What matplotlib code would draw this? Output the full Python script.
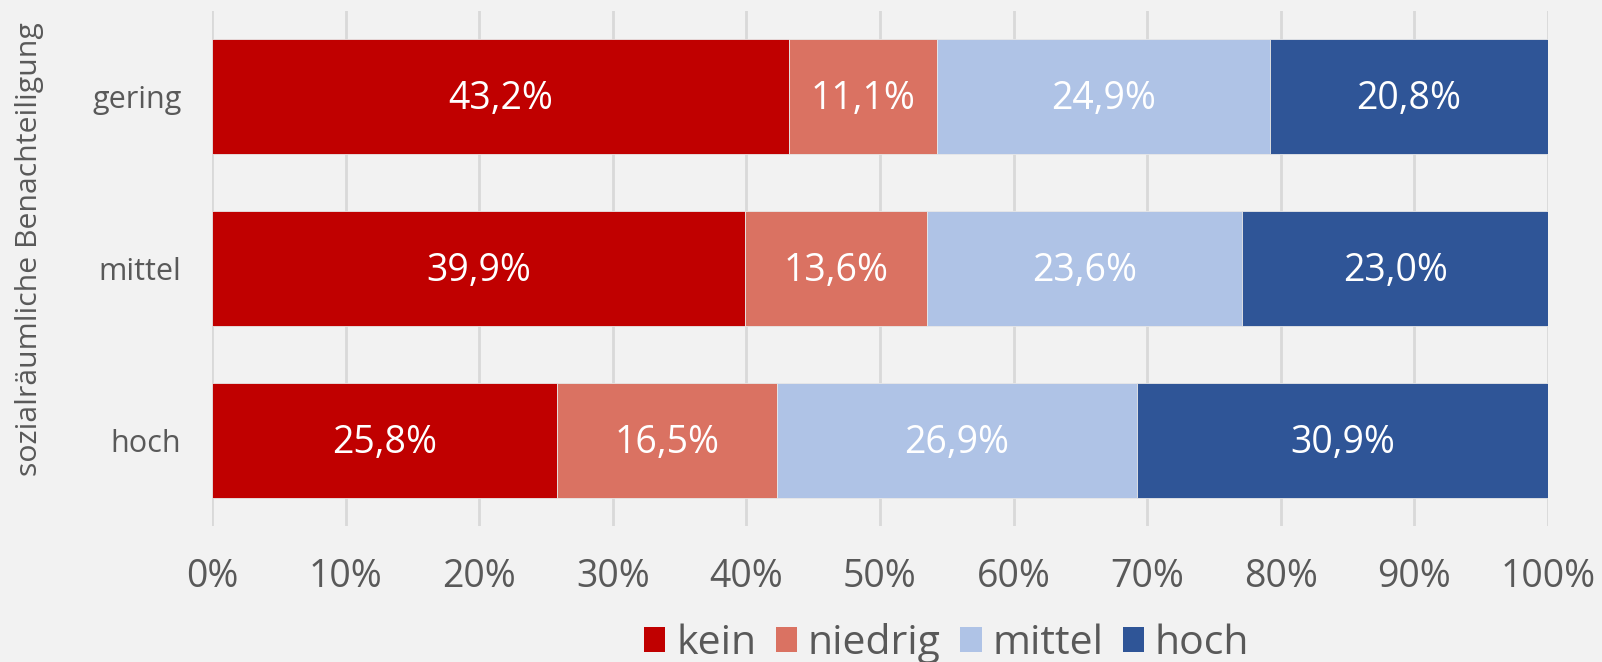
import matplotlib
matplotlib.use("Agg")
import matplotlib.pyplot as plt
from matplotlib.patches import Patch

plt.rcParams['font.family'] = ['Open Sans', 'DejaVu Sans']

categories = ["hoch", "mittel", "gering"]
series_names = ["kein", "niedrig", "mittel", "hoch"]
kein = [25.8, 39.9, 43.2]
niedrig = [16.5, 13.6, 11.1]
mittel = [26.9, 23.6, 24.9]
hoch = [30.9, 23.0, 20.8]
xticks = [0, 10, 20, 30, 40, 50, 60, 70, 80, 90, 100]
xtick_labels = ["0%", "10%", "20%", "30%", "40%", "50%", "60%", "70%", "80%", "90%", "100%"]
ylabel = "sozialräumliche Benachteiligung"

colors = ["#C00000", "#DA7262", "#AFC3E6", "#2F5597"]
bg = "#F2F2F2"
txt = "#595959"

fig = plt.figure(figsize=(16.02, 6.62), dpi=100, facecolor=bg)
ax = fig.add_axes([0.1323, 0.2054, 0.9663 - 0.1323, 0.9834 - 0.2054])
ax.set_facecolor(bg)

ypos = list(range(len(categories)))
left = [0.0] * len(categories)
for name, vals, col in zip(series_names, [kein, niedrig, mittel, hoch], colors):
    bars = ax.barh(ypos, vals, left=left, height=0.67, color=col,
                   edgecolor="#E8E8E8", linewidth=0.6, zorder=3, label=name)
    for b, v in zip(bars, vals):
        ax.text(b.get_x() + b.get_width() / 2, b.get_y() + b.get_height() / 2 - 0.015,
                f"{v:.1f}".replace(".", ",") + "%", ha="center", va="center",
                color="white", fontsize=27, zorder=4)
    left = [l + v for l, v in zip(left, vals)]

ax.set_xlim(0, 100)
ax.set_ylim(-0.5, 2.5)
ax.set_xticks(xticks)
ax.set_xticklabels(xtick_labels)
ax.set_yticks(ypos)
ax.set_yticklabels(categories)
ax.xaxis.grid(True, color="#D9D9D9", linewidth=2, zorder=0)
ax.yaxis.grid(False)
for s in ax.spines.values():
    s.set_visible(False)
ax.tick_params(axis="x", length=0, pad=23, labelsize=27, labelcolor=txt)
ax.tick_params(axis="y", length=0, pad=22, labelsize=22, labelcolor=txt)

fig.text(30 / 1602, 0.624, ylabel, rotation=90, ha="center", va="center",
         fontsize=21.8, color=txt)

handles = [Patch(facecolor=c, edgecolor="none") for c in colors]
fig.legend(handles, series_names, loc="center", bbox_to_anchor=(0.591, 0.028),
           ncol=4, frameon=False, fontsize=29.5, labelcolor=txt,
           handlelength=0.52, handleheight=0.56, handletextpad=0.26,
           columnspacing=0.48, borderpad=0)

fig.savefig("out.png", dpi=100, facecolor=bg)
